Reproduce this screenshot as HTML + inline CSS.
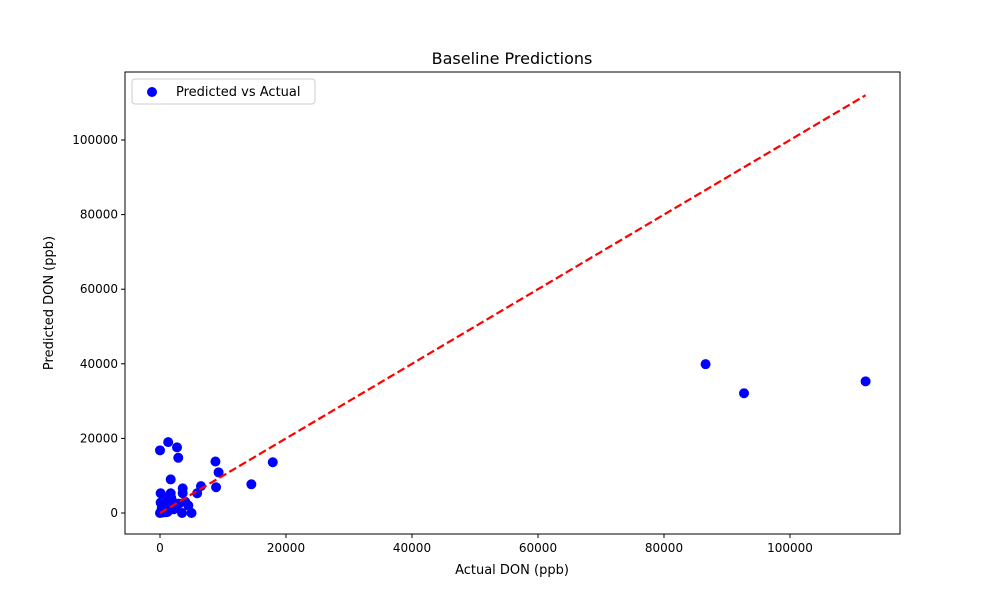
<!DOCTYPE html>
<html><head><meta charset="utf-8"><style>
body{margin:0;background:#fff;font-family:"Liberation Sans","DejaVu Sans",sans-serif}
svg text{font-family:"DejaVu Sans","Liberation Sans",sans-serif}
</style></head><body>
<svg width="1000" height="600">
<script>
const actual=[0,1300,2700,2900,8800,9300,17900,14500,1700,8900,6500,5900,3600,3600,5000,100,1700,100,0,300,600,900,1200,1500,2000,2500,3000,4000,4500,500,800,200,1000,1800,3500,86600,92700,112000,400,700,1100,2200,300,150];
const predicted=[16800,19000,17600,14800,13800,10900,13600,7700,9000,6900,7200,5300,6600,5300,0,5300,5300,2800,0,1000,500,200,300,4500,3000,1500,2500,3000,2000,3000,1800,600,800,4000,0,39900,32100,35300,100,2000,3500,1000,1500,200];
const xTicks=[0,20000,40000,60000,80000,100000];
const yTicks=[0,20000,40000,60000,80000,100000];
const L=125,R=900,T=72,B=534;
const sx=v=>160+v*0.0063, sy=v=>513-v*0.003730;
const NS="http://www.w3.org/2000/svg";
const svg=document.currentScript.parentNode;
function mk(t,a,p){const e=document.createElementNS(NS,t);for(const k in a)e.setAttribute(k,a[k]);(p||svg).appendChild(e);return e;}
const title=mk('text',{x:512,y:64,'text-anchor':'middle','font-size':16});title.textContent='Baseline Predictions';


xTicks.forEach(v=>{const g=mk('g',{});


mk('line',{x1:sx(v),x2:sx(v),y1:B,y2:B+4,stroke:'#000'},g);
const t=mk('text',{x:sx(v),y:B+18,'text-anchor':'middle','font-size':12},g);t.textContent=v;});
yTicks.forEach(v=>{const g=mk('g',{});


mk('line',{x1:L-4,x2:L,y1:sy(v),y2:sy(v),stroke:'#000'},g);
const t=mk('text',{x:L-7,y:sy(v)+4,'text-anchor':'end','font-size':12},g);t.textContent=v;});
const xl=mk('text',{x:512,y:574,'text-anchor':'middle','font-size':13});xl.textContent='Actual DON (ppb)';


const yl=mk('text',{x:0,y:0,'text-anchor':'middle','font-size':13,transform:'translate(53,303) rotate(-90)'});yl.textContent='Predicted DON (ppb)';


actual.forEach((a,i)=>{const c=mk('circle',{cx:sx(a),cy:sy(predicted[i]),r:5,fill:'#0000ff'});

});
const mx=Math.max(...actual);
const ln=mk('line',{x1:sx(0),y1:sy(0),x2:sx(mx),y2:sy(mx),stroke:'#ff0000','stroke-width':2.2,'stroke-dasharray':'8,3.5'});


const fr=mk('rect',{x:L,y:T,width:R-L,height:B-T,fill:'none',stroke:'#000','stroke-width':1});


const lg=mk('g',{});


mk('rect',{x:132,y:79,width:183,height:25,rx:3,fill:'#fff',stroke:'#ccc'},lg);
mk('circle',{cx:152,cy:92,r:5,fill:'#0000ff'},lg);
const lt=mk('text',{x:176,y:96,'font-size':13},lg);lt.textContent='Predicted vs Actual';
</script>
</svg>
</body></html>
